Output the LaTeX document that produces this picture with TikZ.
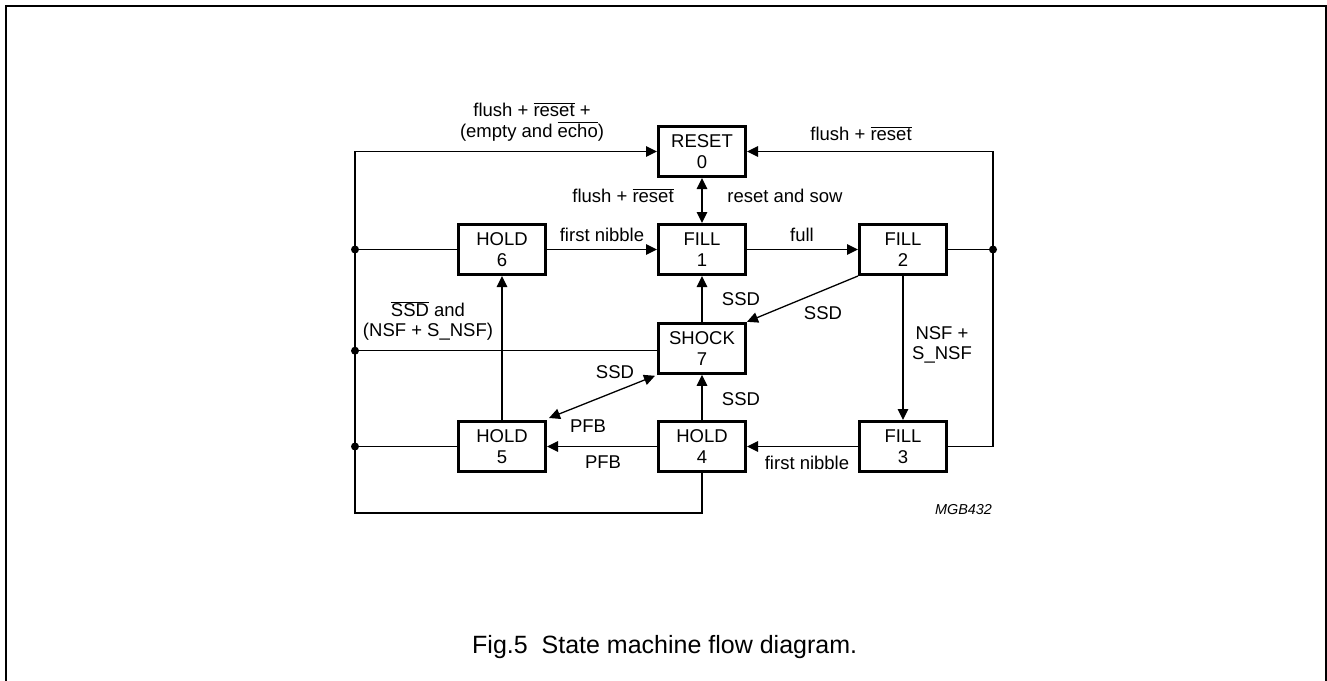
\documentclass[tikz,border=0pt]{standalone}
\usepackage{fontspec}
\setmainfont{Liberation Sans}
\usetikzlibrary{arrows.meta,calc}
\newcommand{\ovl}[1]{$\overline{\hbox{#1}}$}
\begin{document}
\begin{tikzpicture}[x=1pt,y=-1pt,
  box/.style={draw, line width=3pt, minimum width=87pt, minimum height=50pt, inner sep=0pt,
    align=center, font=\fontsize{18.5}{20.5}\selectfont},
  lbl/.style={inner sep=0pt, align=center, font=\fontsize{18.5}{20.5}\selectfont},
  conn/.style={line width=1.3pt},
  tip/.tip={Triangle[length=11pt,width=10.5pt]},
  dot/.style={circle, fill, inner sep=0pt, minimum size=8pt}]
\useasboundingbox (0,0) rectangle (1327,680);
% outer frame
\draw[line width=2pt] (6,700) -- (6,6) -- (1326,6) -- (1326,700);

% states
\node[box] (s0) at (702,151.5) {RESET\\0};
\node[box] (s1) at (702,249.5) {FILL\\1};
\node[box] (s2) at (903,249.5) {FILL\\2};
\node[box] (s6) at (502,249.5) {HOLD\\6};
\node[box] (s7) at (702,348.3) {SHOCK\\7};
\node[box] (s5) at (502,446.5) {HOLD\\5};
\node[box] (s4) at (702,446.5) {HOLD\\4};
\node[box] (s3) at (903,446.5) {FILL\\3};

% bus coordinates
\coordinate (lbT) at (355,151.5);
\coordinate (lbB) at (355,513);
\coordinate (rbT) at (993,151.5);
\coordinate (rbB) at (993,446.5);

% left bus back to RESET
\draw[conn,-tip] (s4.south) |- (lbB) -- (lbT) -- (s0.west);
\draw[conn] (s6.west) -- (s6.west -| lbT) node[dot] (d6) {};
\draw[conn] ([yshift=-2.4pt]s7.west) -- ([yshift=-2.4pt]s7.west -| lbT) node[dot] (d7) {};
\draw[conn] (s5.west) -- (s5.west -| lbT) node[dot] (d5) {};

% right bus back to RESET
\draw[conn,-tip] (s3.east) -- (rbB) -- (rbT) -- (s0.east);
\draw[conn] (s2.east) -- (s2.east -| rbT) node[dot] (d2) {};

% transitions
\draw[conn,tip-tip] (s0) -- (s1);
\draw[conn,-tip] (s6) -- (s1);
\draw[conn,-tip] (s1) -- (s2);
\draw[conn,-tip] (s2.south west) -- (s7.north east);
\draw[conn,-tip] (s7) -- (s1);
\draw[conn,-tip] (s4) -- (s7);
\draw[conn,tip-tip] ([shift={(-2pt,-1pt)}]s7.south west) -- ([shift={(2pt,2pt)}]s5.north east);
\draw[conn,-tip] (s4) -- (s5);
\draw[conn,-tip] (s3) -- (s4);
\draw[conn,-tip] (s2) -- (s3);
\draw[conn,-tip] (s5) -- (s6);

% labels
\node[lbl] (l1) at (532,122) {flush + \ovl{reset} +\\(empty and \ovl{echo})};
\node[lbl] (l2) at (861,134) {flush + \ovl{reset}};
\node[lbl] (l3) at (623,196) {flush + \ovl{reset}};
\node[lbl] (l4) at (785,196) {reset and sow};
\node[lbl] (l5) at (602,235) {first nibble};
\node[lbl] (l6) at (802,235) {full};
\node[lbl] (l7) at (741,299) {SSD};
\node[lbl] (l8) at (823,313) {SSD};
\node[lbl] (l9) at (428,321) {\ovl{SSD} and\\(NSF + S\_NSF)};
\node[lbl] (l10) at (942,345) {NSF +\\S\_NSF};
\node[lbl] (l11) at (615,372) {SSD};
\node[lbl] (l12) at (741,399) {SSD};
\node[lbl] (l13) at (588,426) {PFB};
\node[lbl] (l14) at (603,462) {PFB};
\node[lbl] (l15) at (807,463) {first nibble};
\node[inner sep=0pt, font=\fontsize{14.4}{16}\selectfont\itshape] (tag) at (963.5,510) {MGB432};
\node[inner sep=0pt, anchor=base west, font=\fontsize{25}{28}\selectfont] (cap) at (472,653) {Fig.5\ \ State machine flow diagram.};
\end{tikzpicture}
\end{document}
